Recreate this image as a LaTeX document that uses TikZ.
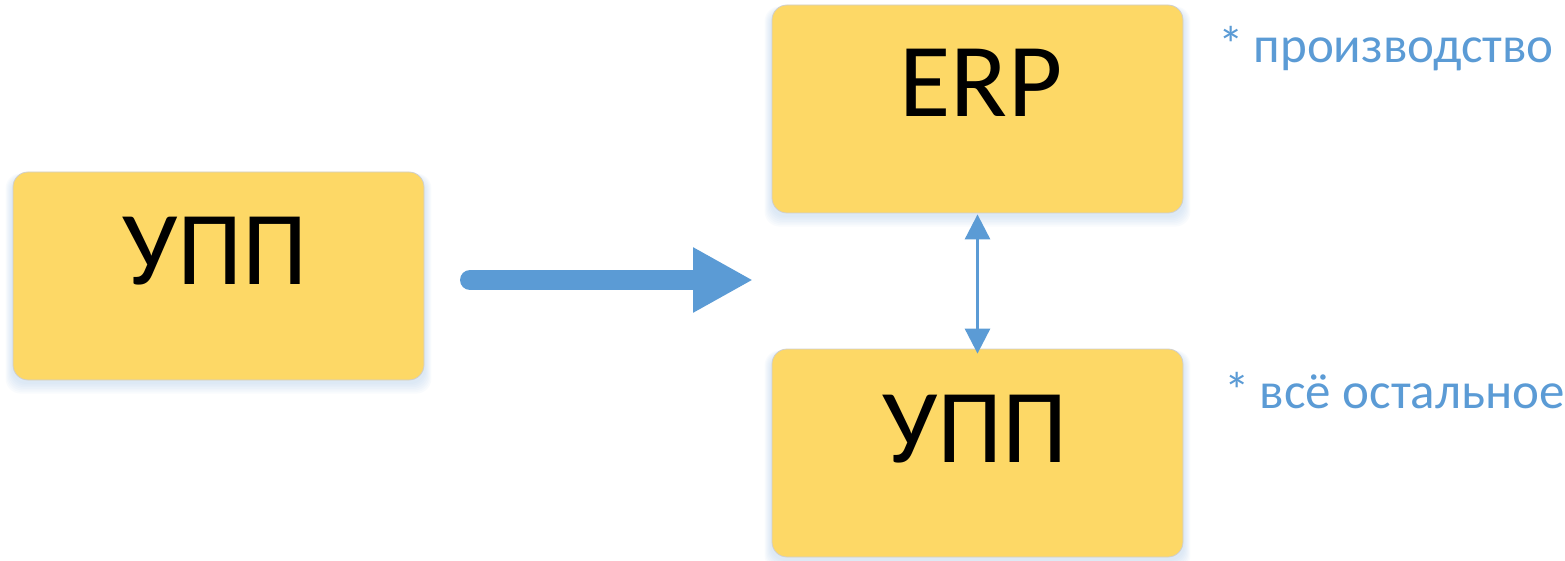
\documentclass[tikz,border=0pt]{standalone}
\usepackage{fontspec}
\setmainfont{Carlito}
\usetikzlibrary{arrows.meta,backgrounds,calc}
\definecolor{boxfill}{HTML}{FDD866}
\definecolor{boxline}{HTML}{CFCFCF}
\definecolor{accent}{HTML}{5B9BD5}
\definecolor{glowc}{HTML}{9DBFE3}
\tikzset{
  box/.style={draw=boxline, line width=0.8pt, fill=boxfill, rounded corners=15pt,
    minimum width=411pt, minimum height=208pt, inner sep=0pt},
  bigtext/.style={font=\fontsize{105}{120}\selectfont, text=black, anchor=base, inner sep=0pt},
  note/.style={font=\fontsize{51}{60}\selectfont, text=accent, anchor=base west, inner sep=0pt},
}
\begin{document}
\begin{tikzpicture}[x=1pt,y=-1pt]
\useasboundingbox (0,0) rectangle (1565,561);
% boxes
\node[box] (upp1) at (218.5,276) {};
\node[box] (erp) at (977.5,109) {};
\node[box] (upp2) at (977.5,453) {};
% glow
\begin{scope}[on background layer]
\foreach \n in {upp1,erp,upp2}{
  \foreach \d in {2,4,...,14}{
    \fill[glowc, opacity=0.06, rounded corners=15pt]
      ($(\n.south west)+(-\d*0.5,\d*0.8+2)$) rectangle ($(\n.north east)+(\d*0.5,-\d*0.3+6)$);
  }
}
\end{scope}
% texts
\node[bigtext] (t1) at (215,284) {УПП};
\node[bigtext] (t2) at (981,117) {ERP};
\node[bigtext] (t3) at (975,462) {УПП};
\node[note] (n1) at (1218,63) {*\hspace{0.2em}производство};
\node[note] (n2) at (1224,408) {*\hspace{0.2em}всё остальное};
% big arrow
\coordinate (a0) at (470,280);
\coordinate (a1) at (753,280);
\draw[accent, line width=20pt, line cap=round, -{Triangle[length=60pt,width=61pt]}] (a0) -- (a1);
% double arrow
\draw[accent, line width=3pt, {Triangle[length=25pt,width=25pt]}-{Triangle[length=25pt,width=25pt]}]
  ([yshift=-1pt]erp.south) -- ([yshift=-5pt]upp2.north);
\end{tikzpicture}
\end{document}
